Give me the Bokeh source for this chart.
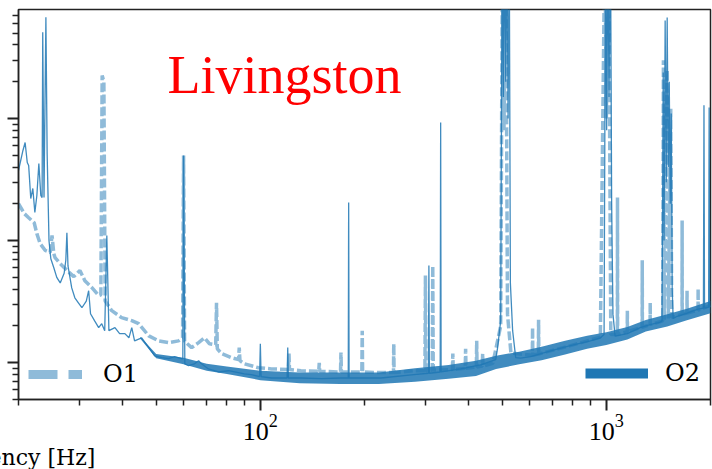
import numpy as np
from bokeh.plotting import figure
from bokeh.models import (Range1d, FixedTicker, Legend, LegendItem, Label, Title,
                          CustomJSTickFormatter)
from bokeh.embed import file_html
from bokeh.resources import INLINE

# ---------------- data (ASD values in units of 1e-24 strain/sqrt(Hz)) ----------------
o2_freq = [20.0, 20.6, 20.9, 21.2, 21.4, 21.7, 22.0, 22.3, 22.6, 22.9,
           23.2, 23.4, 23.5, 23.7, 24.0, 24.2, 24.5, 24.8, 25.3, 25.8,
           26.4, 27.1, 27.4, 27.6, 27.8, 28.5, 29.1, 29.9, 30.5, 31.4,
           31.9, 32.3, 33.2, 34.1, 34.8, 35.5, 36.0, 36.5, 38.0, 39.2,
           40.6, 41.7, 42.5, 43.3, 45.4, 47.6, 49.5, 51.9, 54.3, 56.5,
           59.2, 59.7, 60.0, 60.5, 62.0, 64.5, 66.3, 67.6, 70.8, 75.7,
           80.9, 86.4, 89.9, 94.2, 99.5, 100.0, 100.5, 107.6, 119.5, 120.0,
           120.5, 131, 150, 171, 179.5, 180.0, 180.5, 223, 278, 306,
           307, 308, 331, 332, 333, 379, 433, 479, 485, 495,
           500, 504, 508, 512, 516, 520, 524, 528, 536, 547,
           565, 604, 690, 787, 899, 961, 985, 995, 1002, 1010,
           1018, 1028, 1036, 1045, 1060, 1150, 1253, 1339, 1431, 1449,
           1460, 1468, 1479, 1490, 1499, 1510, 1520, 1530, 1540, 1550,
           1560, 1602, 1711, 1842, 1908, 1915, 1922, 1975, 1982, 1990,
           2000]
o2_asd = [375, 547, 636, 436, 412, 221, 267, 170, 234, 428,
          234, 225, 5070, 225, 6730, 516, 100, 71, 60, 50,
          45, 54, 69, 116, 62, 41, 34, 30.5, 28.2, 32,
          38.9, 25.2, 22, 19.4, 20.9, 18.3, 110, 18.3, 19.4, 17.3,
          17.3, 16.0, 19.4, 15.1, 16.0, 13.3, 11.4, 11.0, 10.8, 11.2,
          10.8, 10.8, 497, 9.8, 9.45, 9.8, 10.4, 9.8, 8.9, 8.4,
          8.6, 8.3, 8.1, 8.0, 7.7, 14.3, 7.7, 7.5, 7.5, 13.3,
          7.5, 7.5, 7.4, 7.5, 7.5, 205, 7.5, 7.5, 8.0, 8.2,
          62.4, 8.2, 8.4, 927, 8.4, 8.9, 9.6, 10.6, 13.3, 22,
          30000, 1500, 30000, 2000, 30000, 1000, 30000, 45, 18.3, 11.0,
          10.9, 11.2, 12.5, 13.8, 15.1, 16.0, 17, 30000, 800, 30000,
          1500, 30000, 200, 25, 16.5, 17.3, 19.4, 20.5, 21.5, 22,
          2380, 100, 6350, 300, 6700, 400, 2000, 200, 1100, 40,
          23, 24, 25.5, 27.5, 28, 1280, 28, 28.5, 1230, 28.8,
          28.8]

# O2 noise band (upper / lower envelope of the fluctuating trace)
band_freq = [45, 50, 60, 70, 80, 100, 130, 170, 220, 280, 350, 420,
             480, 560, 650, 760, 880, 1000, 1150, 1300, 1500, 1700, 2000]
band_hi = [16.3, 11.8, 11.0, 9.8, 9.3, 8.6, 8.3, 8.3, 8.3, 9.0, 9.6, 10.4,
           11.4, 12.3, 13.5, 15.1, 16.6, 17.8, 19.6, 22.4, 25.0, 27.5, 32.0]
band_lo = [15.7, 10.9, 9.7, 8.6, 8.1, 7.2, 6.8, 6.7, 6.7, 7.0, 7.4, 7.8,
           8.9, 9.7, 10.5, 11.7, 13.0, 14.0, 15.5, 18.0, 19.8, 22.2, 25.4]

o1_freq = [20.0, 20.8, 21.4, 22.2, 22.6, 23.1, 23.9, 24.7, 25.0, 25.3,
           25.5, 26.4, 27.6, 28.9, 30.1, 31.1, 32.6, 34.1, 34.6, 34.9,
           35.3, 35.6, 37.2, 39.7, 42.5, 44.5, 47.6, 50.8, 54.3, 58.0,
           59.6, 60.0, 60.4, 63.3, 66.3, 69.0, 71.3, 74.3, 74.7, 75.1,
           77.2, 82.5, 86.5, 86.9, 87.3, 89.9, 98.7, 107.6, 120.6, 121.0,
           121.4, 131, 147.5, 148.0, 148.5, 170.5, 171.0, 171.5, 196.5, 197.0,
           197.5, 223, 242.5, 243.0, 243.5, 278, 299, 300, 301, 314,
           315, 316, 359, 360, 361, 391, 392, 393, 421, 422,
           423, 438, 439, 440, 470, 495, 501, 506, 512, 518,
           530, 611, 612, 613, 636, 637, 638, 787, 961, 990,
           1000, 1015, 1030, 1076, 1077, 1078, 1149, 1150, 1151, 1269,
           1270, 1271, 1338, 1339, 1340, 1455, 1462, 1470, 1500, 1510,
           1535, 1545, 1655, 1656, 1657, 1710, 1711, 1712, 1841, 1842,
           1843, 2000]
o1_asd = [201, 166, 154, 140, 114, 94.5, 83, 80, 110, 78,
          72.6, 64.8, 57, 50.7, 57, 47, 41.2, 35.5, 36, 2250,
          2000, 32, 26.7, 23.4, 22.1, 20.9, 16.6, 15.1, 14.6, 15.1,
          16, 497, 15, 13.3, 14.6, 16.0, 14.3, 14, 31, 13,
          11.9, 11.0, 10.6, 13.3, 10.4, 9.8, 9.1, 8.9, 8.8, 11.9,
          8.8, 8.6, 8.5, 10.0, 8.5, 8.4, 12.1, 8.4, 8.4, 18.3,
          8.4, 8.3, 8.3, 14.3, 8.3, 8.6, 8.6, 51.7, 8.6, 8.7,
          62, 8.7, 8.8, 11.9, 8.8, 9.0, 13.0, 9.0, 9.2, 15.1,
          9.2, 9.4, 11.9, 9.4, 9.9, 20, 30000, 800, 30000, 25,
          12, 11.5, 19.4, 11.5, 11.8, 22.5, 11.8, 13.8, 16.2, 30000,
          1000, 30000, 17, 17, 225, 17, 18, 26.7, 18, 19.5,
          69, 19.5, 20.5, 31, 20.5, 22, 3000, 22.5, 2500, 23,
          1200, 23.5, 25, 146, 25, 25.5, 38.9, 25.5, 27, 40.4,
          27, 29.5]

x_major = [100, 1000]
x_minor = [20, 30, 40, 50, 60, 70, 80, 90, 200, 300, 400, 500, 600, 700, 800, 900, 2000]
y_major = [1e-23, 1e-22, 1e-21]
y_minor = [m * 10.0 ** e for e in (-24, -23, -22, -21) for m in range(2, 10)
           if 5e-24 <= m * 10.0 ** e <= 8e-21]

UNIT = 1e-24
BLUE = "#1f77b4"

p = figure(width=712, height=469, x_axis_type="log", y_axis_type="log",
           x_range=Range1d(20, 2000), y_range=Range1d(5e-24, 7.8e-21),
           output_backend="svg", toolbar_location=None,
           min_border_left=18, min_border_right=2, min_border_top=9, min_border_bottom=70)
p.grid.visible = False
p.outline_line_color = "#222222"
p.outline_line_width = 1.5
p.background_fill_color = "white"
p.border_fill_color = "white"

# curves
p.line(o1_freq, np.array(o1_asd) * UNIT, line_color=BLUE, line_alpha=0.5,
       line_width=3.5, line_dash="9 3")
p.varea(x=band_freq, y1=np.array(band_lo) * UNIT, y2=np.array(band_hi) * UNIT,
        fill_color=BLUE, fill_alpha=0.85)
p.line(o2_freq, np.array(o2_asd) * UNIT, line_color=BLUE, line_alpha=0.85, line_width=1.3)

# legend proxies
o1_proxy = p.line([1.0], [1.0], line_color=BLUE, line_alpha=0.5, line_width=9, line_dash="29 11")
o2_proxy = p.line([1.0], [1.0], line_color=BLUE, line_alpha=1.0, line_width=10)

leg_kw = dict(padding=0, margin=0, spacing=0, border_line_color=None,
              background_fill_alpha=0, glyph_height=28,
              label_text_font="DejaVu Serif", label_text_font_size="24px",
              label_text_color="black")
leg1 = Legend(items=[LegendItem(label="O1", renderers=[o1_proxy])], location=(10, 11),
              glyph_width=54, label_standoff=21, **leg_kw)
leg2 = Legend(items=[LegendItem(label="O2", renderers=[o2_proxy])], location=(567, 12),
              glyph_width=63, label_standoff=17, **leg_kw)
p.add_layout(leg1)
p.add_layout(leg2)

# axes
p.xaxis.ticker = FixedTicker(ticks=x_major, minor_ticks=x_minor)
p.yaxis.ticker = FixedTicker(ticks=y_major, minor_ticks=y_minor)
for ax in (p.xaxis[0], p.yaxis[0]):
    ax.axis_line_color = "#222222"
    ax.axis_line_width = 1.5
    ax.major_tick_in = 0
    ax.minor_tick_in = 0
    ax.major_tick_out = 11
    ax.minor_tick_out = 6
    ax.major_tick_line_width = 2
    ax.minor_tick_line_width = 1.5
    ax.major_tick_line_color = "#222222"
    ax.minor_tick_line_color = "#222222"
p.xaxis.major_label_text_font = "Liberation Serif"
p.xaxis.major_label_text_font_size = "26px"
p.xaxis.major_label_text_color = "black"
p.xaxis.major_label_standoff = 4
p.yaxis.formatter = CustomJSTickFormatter(code="return '';")
p.yaxis.major_label_standoff = 0

# texts
p.add_layout(Label(x=149, y=325, x_units="screen", y_units="screen", text="Livingston",
                   text_font="Liberation Serif", text_font_size="54px", text_color="red",
                   text_baseline="alphabetic"))
p.add_layout(Title(text="Frequency [Hz]", align="left", offset=-97, standoff=0,
                   text_font="DejaVu Serif", text_font_size="22px", text_font_style="normal",
                   text_color="black"), "below")

assert len(o2_freq) == len(o2_asd)
assert len(o1_freq) == len(o1_asd)
assert len(band_freq) == len(band_hi) == len(band_lo)

open("out.html", "w").write(file_html(p, INLINE))
